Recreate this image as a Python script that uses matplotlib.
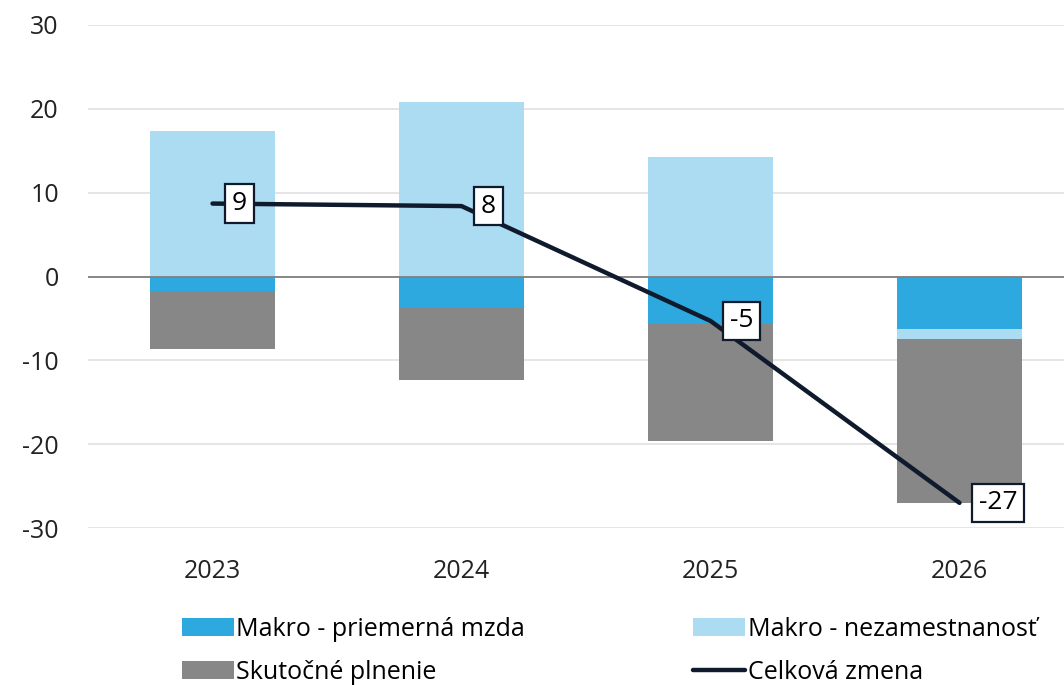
import matplotlib.pyplot as plt
import numpy as np

years = ["2023", "2024", "2025", "2026"]
mzda = [-1.7, -3.8, -5.7, -6.3]
nezam = [17.3, 20.8, 14.3, -1.1]
plnenie = [-6.9, -8.5, -13.9, -19.6]
celkova = [8.7, 8.4, -5.3, -27.0]

series = [
    ("Makro - priemerná mzda", mzda, "#2ea9df"),
    ("Makro - nezamestnanosť", nezam, "#abdcf2"),
    ("Skutočné plnenie", plnenie, "#878787"),
]

plt.rcParams["font.family"] = ["Open Sans", "DejaVu Sans"]
plt.rcParams["axes.unicode_minus"] = False

fig = plt.figure(figsize=(10.64, 6.85), dpi=100)
ax = fig.add_axes([88 / 1064, 1 - 528 / 685, 1 - 88 / 1064, (528 - 25) / 685])

x = np.arange(len(years))
pos_base = np.zeros(len(years))
neg_base = np.zeros(len(years))
handles = {}
for name, vals, color in series:
    vals = np.array(vals)
    bottom = np.where(vals >= 0, pos_base, neg_base)
    handles[name] = ax.bar(x, vals, width=0.506, bottom=bottom, color=color,
                           label=name, zorder=2)
    pos_base += np.where(vals >= 0, vals, 0)
    neg_base += np.where(vals < 0, vals, 0)

line, = ax.plot(x, celkova, color="#0f1b2d", linewidth=3.2,
                solid_capstyle="round", zorder=4, label="Celková zmena")

for xi, v in zip(x, celkova):
    ax.annotate(f"{v:.0f}", (xi, v), xytext=(14, 0), textcoords="offset points",
                ha="left", va="center", fontsize=19, color="black", zorder=5,
                bbox=dict(boxstyle="square,pad=0.25", fc="white", ec="#0f1b2d", lw=1.6))

ax.axhline(0, color="#808080", linewidth=1.3, zorder=3)
ax.set_ylim(-30, 30)
ax.set_yticks(range(-30, 31, 10))
ax.set_xlim(-0.5, (1064 - 88) / 249 - 0.5)
ax.set_xticks(x)
ax.set_xticklabels(years)
ax.grid(axis="y", color="#e3e3e3", linewidth=1.3, zorder=0)
ax.set_axisbelow(True)
for s in ax.spines.values():
    s.set_visible(False)
ax.tick_params(length=0, labelsize=18, colors="#222222")
ax.tick_params(axis="y", pad=21)
ax.tick_params(axis="x", pad=22)

# legend fills column by column, so order the entries accordingly
order = ["Makro - priemerná mzda", "Skutočné plnenie",
         "Makro - nezamestnanosť", "Celková zmena"]
leg_handles = [handles["Makro - priemerná mzda"], handles["Skutočné plnenie"],
               handles["Makro - nezamestnanosť"], line]
fig.legend(leg_handles, order,
           ncol=2, loc="upper left", bbox_to_anchor=(159 / 1064, 1 - 594 / 685),
           frameon=False, fontsize=18, handlelength=2.1, handleheight=0.75,
           handletextpad=0.1, columnspacing=6.7, labelspacing=0.74)

fig.savefig("out.png", dpi=100)
